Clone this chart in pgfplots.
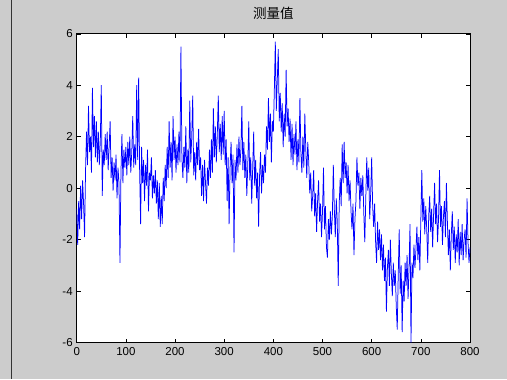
\documentclass[border=0pt]{standalone}
\usepackage{fontspec}
\setmainfont{Liberation Sans}
\newfontfamily\cjk{Noto Sans CJK SC}
\usepackage{pgfplots}
\pgfplotsset{compat=1.18}
\definecolor{figgray}{RGB}{204,204,204}
\begin{document}
\begin{tikzpicture}[x=1bp,y=1bp]
\fill[figgray] (0,0) rectangle (507,378);
\draw[black!80,line width=1bp] (11.5,0) -- (11.5,378);
\begin{axis}[
  at={(76.7bp,36bp)}, anchor=south west,
  scale only axis, width=393.3bp, height=308.7bp,
  xmin=0, xmax=800, ymin=-6, ymax=6,
  xtick={0,100,...,800}, ytick={-6,-4,...,6},
  tick align=inside, major tick length=4bp,
  axis background/.style={fill=white},
  axis line style={black, line width=0.8bp},
  every tick/.style={black, line width=0.6bp},
  tick label style={font=\fontsize{11.5bp}{12bp}\selectfont},
  /pgf/number format/assume math mode=true,
  xticklabel style={yshift=-1bp},
  yticklabel style={xshift=-0.5bp},
  title={测量值},
  title style={at={(axis description cs:0.5,1)}, anchor=center, yshift=14.5bp, font=\cjk\fontsize{13.5bp}{13.5bp}\selectfont},
]
\addplot[blue, line width=0.75bp, mark=none] coordinates {
(0,-0.8)(2,-2.2)(4,-0.5)(6,-1.6)(8,0.1)(10,-1.2)(12,0.3)(14,-0.6)(16,-1.9)(18,0.7)
(20,2.2)(22,0.9)(24,3.2)(26,1.4)(28,2.0)(30,0.6)(32,3.9)(34,1.6)(36,2.8)(38,1.2)
(40,2.6)(42,1.0)(44,2.2)(46,0.9)(48,1.8)(50,4.0)(52,-0.3)(54,1.5)(56,0.9)(58,2.1)
(60,1.1)(62,2.2)(64,0.7)(66,1.6)(68,2.6)(70,0.4)(72,1.2)(74,-0.1)(76,1.0)(78,0.3)
(80,1.3)(82,-0.4)(84,0.8)(86,0.2)(88,-2.9)(90,0.6)(92,2.1)(94,0.2)(96,1.5)(98,0.8)
(100,1.6)(102,0.5)(104,1.8)(106,0.9)(108,2.0)(110,0.6)(112,1.4)(114,2.8)(116,0.8)(118,1.7)
(120,0.9)(122,4.0)(124,1.1)(126,4.3)(128,0.7)(130,-1.4)(132,1.6)(134,0.2)(136,1.1)(138,-0.5)
(140,0.9)(142,0.1)(144,1.5)(146,-0.9)(148,0.6)(150,0.3)(152,1.2)(154,-0.4)(156,0.5)(158,-0.2)
(160,0.7)(162,-0.6)(164,0.3)(166,-1.2)(168,0.2)(170,-1.5)(172,-0.3)(174,-1.4)(176,0.4)(178,-0.5)
(180,0.9)(182,0.0)(184,1.6)(186,0.4)(188,2.6)(190,0.8)(192,1.8)(194,0.3)(196,2.8)(198,1.1)
(200,2.0)(202,0.6)(204,1.7)(206,0.9)(208,2.2)(210,1.0)(212,5.5)(214,1.2)(216,0.4)(218,1.6)
(220,0.8)(222,2.4)(224,0.2)(226,1.5)(228,0.6)(230,3.4)(232,1.0)(234,2.0)(236,3.6)(238,0.5)
(240,1.4)(242,0.3)(244,1.8)(246,0.9)(248,2.3)(250,0.7)(252,1.2)(254,-0.3)(256,0.9)(258,-0.5)
(260,1.1)(262,0.2)(264,-0.6)(266,0.8)(268,0.1)(270,1.5)(272,0.4)(274,1.9)(276,0.6)(278,3.1)
(280,1.2)(282,2.4)(284,1.0)(286,2.1)(288,3.6)(290,1.4)(292,2.5)(294,1.1)(296,2.8)(298,1.3)
(300,3.0)(302,0.9)(304,1.9)(306,-0.5)(308,1.2)(310,-1.4)(312,0.8)(314,1.8)(316,0.2)(318,1.3)
(320,-2.5)(322,1.1)(324,0.3)(326,1.7)(328,0.6)(330,2.0)(332,0.9)(334,1.5)(336,3.2)(338,0.7)
(340,1.8)(342,0.4)(344,1.3)(346,-0.3)(348,0.9)(350,2.6)(352,0.3)(354,1.2)(356,-0.6)(358,0.8)
(360,2.2)(362,0.1)(364,1.1)(366,-0.4)(368,0.6)(370,-1.5)(372,0.5)(374,1.4)(376,-0.2)(378,0.9)
(380,0.2)(382,1.3)(384,0.6)(386,2.4)(388,1.5)(390,3.5)(392,1.8)(394,2.9)(396,1.0)(398,2.6)
(400,2.2)(402,3.8)(404,5.7)(406,3.0)(408,4.2)(410,5.4)(412,2.6)(414,3.7)(416,2.2)(418,3.3)
(420,1.6)(422,2.9)(424,2.0)(426,4.6)(428,2.4)(430,3.1)(432,1.8)(434,2.7)(436,1.1)(438,2.5)
(440,0.9)(442,2.1)(444,1.3)(446,2.6)(448,0.7)(450,1.9)(452,1.0)(454,3.5)(456,1.4)(458,0.6)
(460,2.0)(462,0.8)(464,2.9)(466,1.5)(468,0.4)(470,1.8)(472,1.0)(474,-0.2)(476,0.6)(478,-0.9)
(480,-0.3)(482,0.7)(484,-1.1)(486,-0.2)(488,-1.7)(490,-0.5)(492,0.3)(494,-1.3)(496,-0.6)(498,-1.9)
(500,-0.9)(502,0.8)(504,-1.6)(506,-0.7)(508,-2.3)(510,-2.7)(512,-1.2)(514,-2.0)(516,-0.9)(518,-1.8)
(520,-1.1)(522,0.9)(524,-0.8)(526,-1.9)(528,-0.4)(530,-1.3)(532,-3.8)(534,-0.6)(536,0.4)(538,-0.7)
(540,1.7)(542,0.2)(544,1.8)(546,0.4)(548,1.0)(550,-0.2)(552,0.9)(554,-0.5)(556,0.3)(558,-0.9)
(560,-1.6)(562,-0.6)(564,-2.6)(566,-1.2)(568,-0.5)(570,1.2)(572,0.1)(574,0.6)(576,-0.8)(578,0.4)
(580,-0.3)(582,0.5)(584,-1.0)(586,-2.1)(588,-0.4)(590,1.2)(592,-0.1)(594,0.8)(596,-1.2)(598,-0.2)
(600,1.2)(602,-0.7)(604,-1.5)(606,-0.6)(608,-2.1)(610,-2.9)(612,-1.3)(614,-2.4)(616,-1.6)(618,-2.8)
(620,-1.8)(622,-3.2)(624,-2.2)(626,-3.6)(628,-2.7)(630,-4.8)(632,-3.1)(634,-2.4)(636,-3.8)(638,-2.0)
(640,-3.3)(642,-4.2)(644,-2.9)(646,-3.8)(648,-3.2)(650,-4.6)(652,-5.5)(654,-3.4)(656,-1.6)(658,-4.1)
(660,-3.0)(662,-5.6)(664,-3.6)(666,-4.4)(668,-2.9)(670,-3.8)(672,-2.6)(674,-4.3)(676,-3.1)(678,-1.4)
(680,-6.0)(682,-2.9)(684,-3.5)(686,-2.2)(688,-3.1)(690,-2.4)(692,-1.5)(694,-2.8)(696,-1.9)(698,-3.2)
(700,-1.2)(702,0.7)(704,-1.3)(706,-0.4)(708,-1.8)(710,-0.7)(712,-1.6)(714,-2.9)(716,-1.1)(718,-0.3)
(720,-1.7)(722,-0.8)(724,-2.3)(726,-1.0)(728,0.2)(730,-1.4)(732,-0.6)(734,-2.1)(736,-1.2)(738,0.7)
(740,-1.5)(742,-0.7)(744,-2.2)(746,-1.1)(748,-0.5)(750,-1.9)(752,0.2)(754,-1.3)(756,-2.6)(758,-1.6)
(760,-3.2)(762,-1.8)(764,-0.9)(766,-2.4)(768,-1.5)(770,-2.9)(772,-1.8)(774,-2.5)(776,-1.2)(778,-3.0)
(780,-1.7)(782,-2.6)(784,-1.4)(786,-2.8)(788,-2.0)(790,-1.6)(792,-2.7)(794,-0.4)(796,-2.1)(798,-2.9)
(800,-2.3)
};
\end{axis}
\end{tikzpicture}
\end{document}
